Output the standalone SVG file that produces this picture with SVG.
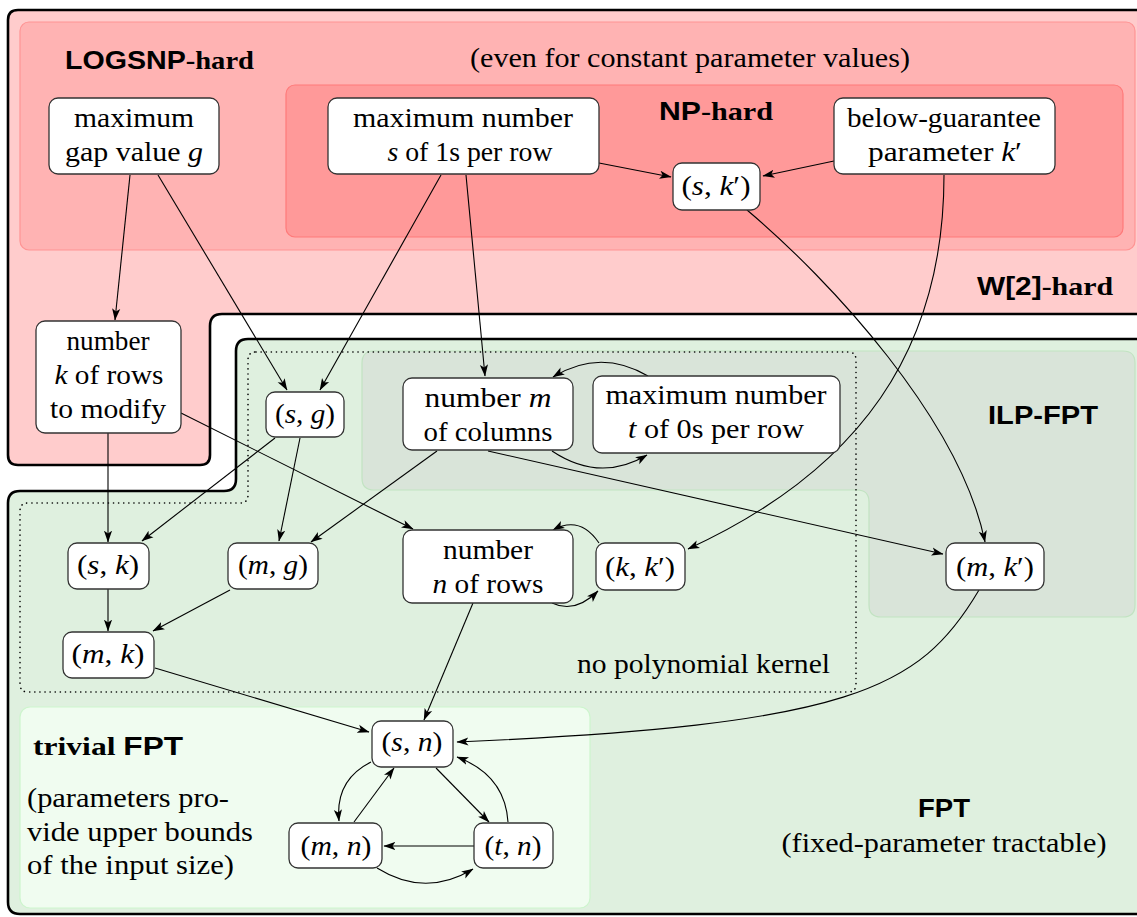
<svg xmlns="http://www.w3.org/2000/svg" width="1137" height="917" viewBox="0 0 1137 917">
<style>
.t{font-family:"Liberation Serif","Times New Roman",serif;font-size:27px;fill:#000}
.b{font-family:"Liberation Serif",serif;font-weight:bold;font-size:26px;fill:#000}
.s{font-family:"Liberation Sans",Arial,sans-serif;font-weight:bold}
.i{font-style:italic}
.n rect{fill:#fff;stroke:#333;stroke-width:1.3}
.e path{fill:none;stroke:#000;stroke-width:1.1;marker-end:url(#ah)}
</style>
<defs>
<marker id="ah" markerUnits="userSpaceOnUse" markerWidth="12" markerHeight="10" viewBox="0 0 10 8" refX="9.5" refY="4" orient="auto">
<path d="M0,0.6 L10,4 L0,7.4 L2.4,4 Z" fill="#000"/>
</marker>
</defs>
<rect width="1137" height="917" fill="#fff"/>
<g id="regions">
<path id="w2hard" d="M8,20 Q8,10 18,10 L1150,10 L1150,314 L222,314 Q210,314 210,326 L210,455 Q210,465 200,465 L18,465 Q8,465 8,455 Z" fill="#ffcccc" stroke="#000" stroke-width="2.6"/>
<path id="fpt" d="M8,503 Q8,491 20,491 L224,491 Q236,491 236,479 L236,351 Q236,339 248,339 L1150,339 L1150,914 L20,914 Q8,914 8,902 Z" fill="#dff0df" stroke="#000" stroke-width="2.6"/>
<rect id="logsnp" x="20" y="22" width="1115" height="228" rx="9" fill="#ffb3b3" stroke="#ff9494" stroke-width="1.2"/>
<rect id="nphard" x="286" y="85" width="837" height="152" rx="9" fill="#ff9999" stroke="#ff7a7a" stroke-width="1.2"/>
<path id="ilpfpt" d="M362,363 Q362,351 374,351 L1123,351 Q1135,351 1135,363 L1135,605 Q1135,617 1123,617 L881,617 Q869,617 869,605 L869,502 Q869,490 857,490 L374,490 Q362,490 362,478 Z" fill="#d9e4d9" stroke="#c2e3c2" stroke-width="1.2"/>
<rect id="trivial" x="20" y="707" width="570" height="201" rx="10" fill="#f0fcf0" stroke="#cdf5cd" stroke-width="1.2"/>
<path id="nokernel" d="M256,352 L848,352 Q856,352 856,360 L856,684 Q856,692 848,692 L28,692 Q20,692 20,684 L20,511 Q20,503 28,503 L240,503 Q248,503 248,495 L248,360 Q248,352 256,352 Z" fill="none" stroke="#000" stroke-width="1.6" stroke-linecap="round" stroke-dasharray="0.1 5"/>
</g>
<g id="labels">
<text class="b" x="65" y="69" textLength="189" lengthAdjust="spacingAndGlyphs"><tspan class="s">LOGSNP</tspan>-hard</text>
<text class="t" x="690" y="67" text-anchor="middle" textLength="440" lengthAdjust="spacingAndGlyphs">(even for constant parameter values)</text>
<text class="b" x="659" y="120" textLength="114" lengthAdjust="spacingAndGlyphs"><tspan class="s">NP</tspan>-hard</text>
<text class="b" x="977" y="295" textLength="136" lengthAdjust="spacingAndGlyphs"><tspan class="s">W[2]</tspan>-hard</text>
<text class="b s" x="988" y="424" textLength="110" lengthAdjust="spacingAndGlyphs">ILP-FPT</text>
<text class="t" x="577" y="673" textLength="253" lengthAdjust="spacingAndGlyphs">no polynomial kernel</text>
<text class="b" x="33" y="755" textLength="150" lengthAdjust="spacingAndGlyphs">trivial <tspan class="s">FPT</tspan></text>
<text class="t" x="27" y="807" textLength="202" lengthAdjust="spacingAndGlyphs">(parameters pro-</text>
<text class="t" x="27" y="841" textLength="226" lengthAdjust="spacingAndGlyphs">vide upper bounds</text>
<text class="t" x="27" y="874" textLength="207" lengthAdjust="spacingAndGlyphs">of the input size)</text>
<text class="b s" x="944" y="817" text-anchor="middle" textLength="52" lengthAdjust="spacingAndGlyphs">FPT</text>
<text class="t" x="944" y="852" text-anchor="middle" textLength="325" lengthAdjust="spacingAndGlyphs">(fixed-parameter tractable)</text>
</g>
<g id="connectors" class="e">
<path d="M130,175 L115,320"/>
<path d="M158,175 L287,390"/>
<path d="M441,175 L320,390"/>
<path d="M466,175 L485,376"/>
<path d="M599,163 L671,177"/>
<path d="M834,161 L763,176"/>
<path d="M747,210 C830,280 960,420 985,542"/>
<path d="M944,175 C944,350 860,470 688,549"/>
<path d="M181,413 L413,529"/>
<path d="M108,433 L108,542"/>
<path d="M275,438 L142,541"/>
<path d="M300,438 L279,541"/>
<path d="M437,451 L311,542"/>
<path d="M488,451 L943,554"/>
<path d="M648,376 Q600,348 553,377"/>
<path d="M552,451 Q600,483 647,455"/>
<path d="M599,543 Q580,515 553,530"/>
<path d="M552,603 Q575,614 598,591"/>
<path d="M108,589 L108,631"/>
<path d="M230,590 L153,631"/>
<path d="M155,668 L369,732"/>
<path d="M473,603 L424,720"/>
<path d="M979,590 C920,690 850,725 457,742"/>
<path d="M371,762 Q335,780 339,821"/>
<path d="M354,822 L394,768"/>
<path d="M436,768 L489,822"/>
<path d="M508,822 Q505,775 457,757"/>
<path d="M474,846 L384,846"/>
<path d="M377,868 Q425,898 473,869"/>
</g>
<g id="n-gap" class="n"><rect x="49" y="98" width="170" height="76" rx="9"/>
<text class="t" x="134" y="127" text-anchor="middle" textLength="120" lengthAdjust="spacingAndGlyphs">maximum</text>
<text class="t" x="134" y="161" text-anchor="middle" textLength="138" lengthAdjust="spacingAndGlyphs">gap value <tspan class="i">g</tspan></text></g>
<g id="n-s" class="n"><rect x="328" y="98" width="271" height="76" rx="9"/>
<text class="t" x="463" y="127" text-anchor="middle" textLength="220" lengthAdjust="spacingAndGlyphs">maximum number</text>
<text class="t" x="470" y="161" text-anchor="middle" textLength="165" lengthAdjust="spacingAndGlyphs"><tspan class="i">s</tspan> of 1s per row</text></g>
<g id="n-sk2" class="n"><rect x="673" y="163" width="87" height="47" rx="9"/>
<text class="t" x="716" y="195" text-anchor="middle" textLength="69" lengthAdjust="spacingAndGlyphs">(<tspan class="i">s</tspan>, <tspan class="i">k</tspan>′)</text></g>
<g id="n-k2" class="n"><rect x="834" y="98" width="221" height="76" rx="9"/>
<text class="t" x="944" y="127" text-anchor="middle" textLength="194" lengthAdjust="spacingAndGlyphs">below-guarantee</text>
<text class="t" x="945" y="161" text-anchor="middle" textLength="154" lengthAdjust="spacingAndGlyphs">parameter <tspan class="i">k</tspan>′</text></g>
<g id="n-k" class="n"><rect x="36" y="321" width="145" height="112" rx="9"/>
<text class="t" x="108" y="350" text-anchor="middle" textLength="83" lengthAdjust="spacingAndGlyphs">number</text>
<text class="t" x="109" y="384" text-anchor="middle" textLength="109" lengthAdjust="spacingAndGlyphs"><tspan class="i">k</tspan> of rows</text>
<text class="t" x="108" y="418" text-anchor="middle" textLength="116" lengthAdjust="spacingAndGlyphs">to modify</text></g>
<g id="n-sg" class="n"><rect x="266" y="392" width="78" height="45" rx="9"/>
<text class="t" x="305" y="423" text-anchor="middle" textLength="60" lengthAdjust="spacingAndGlyphs">(<tspan class="i">s</tspan>, <tspan class="i">g</tspan>)</text></g>
<g id="n-m" class="n"><rect x="403" y="378" width="170" height="72" rx="9"/>
<text class="t" x="488" y="407" text-anchor="middle" textLength="127" lengthAdjust="spacingAndGlyphs">number <tspan class="i">m</tspan></text>
<text class="t" x="488" y="441" text-anchor="middle" textLength="129" lengthAdjust="spacingAndGlyphs">of columns</text></g>
<g id="n-t" class="n"><rect x="593" y="376" width="247" height="77" rx="9"/>
<text class="t" x="716" y="404" text-anchor="middle" textLength="221" lengthAdjust="spacingAndGlyphs">maximum number</text>
<text class="t" x="716" y="438" text-anchor="middle" textLength="176" lengthAdjust="spacingAndGlyphs"><tspan class="i">t</tspan> of 0s per row</text></g>
<g id="n-sk" class="n"><rect x="68" y="543" width="81" height="46" rx="9"/>
<text class="t" x="108" y="574" text-anchor="middle" textLength="62" lengthAdjust="spacingAndGlyphs">(<tspan class="i">s</tspan>, <tspan class="i">k</tspan>)</text></g>
<g id="n-mg" class="n"><rect x="228" y="543" width="90" height="46" rx="9"/>
<text class="t" x="273" y="574" text-anchor="middle" textLength="70" lengthAdjust="spacingAndGlyphs">(<tspan class="i">m</tspan>, <tspan class="i">g</tspan>)</text></g>
<g id="n-n" class="n"><rect x="403" y="530" width="170" height="73" rx="9"/>
<text class="t" x="488" y="559" text-anchor="middle" textLength="90" lengthAdjust="spacingAndGlyphs">number</text>
<text class="t" x="488" y="593" text-anchor="middle" textLength="111" lengthAdjust="spacingAndGlyphs"><tspan class="i">n</tspan> of rows</text></g>
<g id="n-kk2" class="n"><rect x="596" y="543" width="89" height="47" rx="9"/>
<text class="t" x="640" y="576" text-anchor="middle" textLength="70" lengthAdjust="spacingAndGlyphs">(<tspan class="i">k</tspan>, <tspan class="i">k</tspan>′)</text></g>
<g id="n-mk2" class="n"><rect x="946" y="543" width="98" height="47" rx="9"/>
<text class="t" x="995" y="576" text-anchor="middle" textLength="78" lengthAdjust="spacingAndGlyphs">(<tspan class="i">m</tspan>, <tspan class="i">k</tspan>′)</text></g>
<g id="n-mk" class="n"><rect x="63" y="632" width="91" height="46" rx="9"/>
<text class="t" x="108" y="663" text-anchor="middle" textLength="73" lengthAdjust="spacingAndGlyphs">(<tspan class="i">m</tspan>, <tspan class="i">k</tspan>)</text></g>
<g id="n-sn" class="n"><rect x="372" y="721" width="81" height="46" rx="9"/>
<text class="t" x="412" y="751" text-anchor="middle" textLength="61" lengthAdjust="spacingAndGlyphs">(<tspan class="i">s</tspan>, <tspan class="i">n</tspan>)</text></g>
<g id="n-mn" class="n"><rect x="289" y="823" width="93" height="45" rx="9"/>
<text class="t" x="336" y="855" text-anchor="middle" textLength="71" lengthAdjust="spacingAndGlyphs">(<tspan class="i">m</tspan>, <tspan class="i">n</tspan>)</text></g>
<g id="n-tn" class="n"><rect x="474" y="823" width="79" height="45" rx="9"/>
<text class="t" x="513" y="855" text-anchor="middle" textLength="57" lengthAdjust="spacingAndGlyphs">(<tspan class="i">t</tspan>, <tspan class="i">n</tspan>)</text></g>
</svg>
